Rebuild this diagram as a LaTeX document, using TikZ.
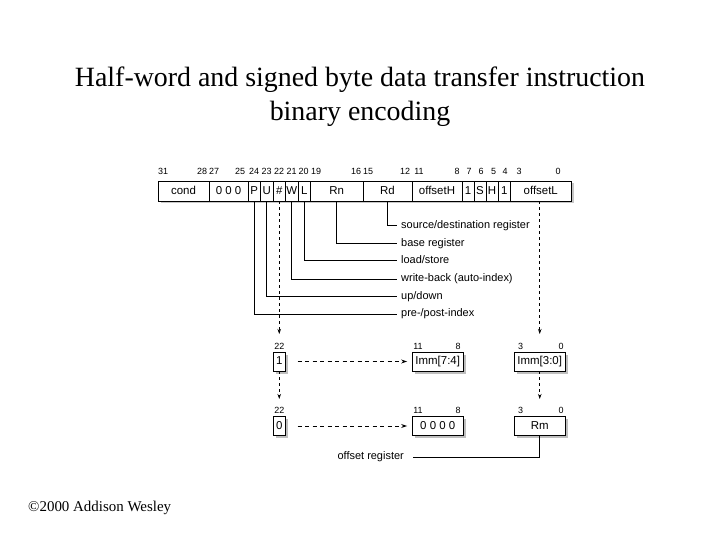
\documentclass[tikz,border=0pt]{standalone}
\usepackage{fontspec}
\setmainfont{Liberation Serif}
\newfontfamily\arial{Liberation Sans}
\usetikzlibrary{arrows.meta,shadows}
\begin{document}
\begin{tikzpicture}[x=1bp,y=-1bp,
  fld/.style={draw=black, line width=0.8bp, fill=white, minimum height=20bp, inner sep=0pt,
    text height=8.3bp, text depth=2.2bp,
    font=\arial\fontsize{11.5}{12}\selectfont},
  lowbox/.style={fld, minimum height=19bp,
    drop shadow={shadow xshift=2.5bp, shadow yshift=-2.5bp, fill=black!25, opacity=1}},
  bit/.style={inner sep=0pt, text height=6.5bp, text depth=0pt, font=\arial\fontsize{9}{10}\selectfont},
  lab/.style={anchor=west, inner sep=0pt, text height=7.5bp, text depth=2bp,
    font=\arial\fontsize{11}{12}\selectfont},
  conn/.style={line width=1bp},
  dashv/.style={line width=0.8bp, dash pattern=on 3bp off 3bp, -{Stealth[length=5bp,width=3.5bp]}},
  dashh/.style={line width=0.9bp, dash pattern=on 4bp off 3.5bp, -{Stealth[length=6bp,width=4bp]}},
]
\useasboundingbox (0,0) rectangle (720,540);

% title
\node[anchor=base, inner sep=0pt, font=\fontsize{28}{34}\selectfont] (title1) at (360,87)
  {Half-word and signed byte data transfer instruction};
\node[anchor=base, inner sep=0pt, font=\fontsize{28}{34}\selectfont] (title2) at (360,121)
  {binary encoding};

% register shadow
\fill[black!22] (160.5,183.5) rectangle (573.5,203.5);

% register fields
\node[fld, minimum width=51bp]   (cond) at (183.5,191) {cond};
\node[fld, minimum width=39bp]   (zero) at (228.5,191) {0 0 0};
\node[fld, minimum width=12.5bp] (P)    at (254.25,191) {P};
\node[fld, minimum width=12.5bp] (U)    at (266.75,191) {U};
\node[fld, minimum width=12.5bp] (hash) at (279.25,191) {\#};
\node[fld, minimum width=12.5bp] (W)    at (291.75,191) {W};
\node[fld, minimum width=12.5bp] (L)    at (304.25,191) {L};
\node[fld, minimum width=52.5bp] (Rn)   at (336.75,191) {Rn};
\node[fld, minimum width=49bp]   (Rd)   at (387.5,191) {Rd};
\node[fld, minimum width=50bp]   (offH) at (437,191) {offsetH};
\node[fld, minimum width=12bp]   (oneA) at (468,191) {1};
\node[fld, minimum width=12bp]   (S)    at (480,191) {S};
\node[fld, minimum width=12bp]   (H)    at (492,191) {H};
\node[fld, minimum width=12.5bp] (oneB) at (504.25,191) {1};
\node[fld, minimum width=60.5bp] (offL) at (540.75,191) {offsetL};

% bit numbers
\foreach \n/\x in {31/163, 28/202, 27/214, 25/240, 24/254, 23/266.5, 22/279, 21/291.5,
  20/303.5, 19/316, 16/356, 15/368, 12/405, 11/419, 8/457, 7/469, 6/481, 5/493.5, 4/505, 3/519, 0/558}
  \node[bit] (t\n) at (\x,171) {\n};

% labels
\node[lab] (lsd)   at (401,226)   {source/destination register};
\node[lab] (lbase) at (401,243.5) {base register};
\node[lab] (lls)   at (401,261)   {load/store};
\node[lab] (lwb)   at (401,279)   {write-back (auto-index)};
\node[lab] (lud)   at (401,296.5) {up/down};
\node[lab] (lpp)   at (401,314)   {pre-/post-index};

\draw[conn] (Rd.south) |- ([xshift=-4bp]lsd.west);
\draw[conn] (Rn.south) |- ([xshift=-4bp]lbase.west);
\draw[conn] (L.south)  |- ([xshift=-4bp]lls.west);
\draw[conn] (W.south)  |- ([xshift=-4bp]lwb.west);
\draw[conn] (U.south)  |- ([xshift=-4bp]lud.west);
\draw[conn] (P.south)  |- ([xshift=-4bp]lpp.west);

% lower boxes
\node[lowbox, minimum width=12bp]   (one)   at (279.25,361.5) {1};
\node[lowbox, minimum width=12bp]   (zer)   at (279.25,426)   {0};
\node[lowbox, minimum width=50.5bp] (imm74) at (437.75,361.5) {Imm[7:4]};
\node[lowbox, minimum width=50.5bp] (zer4)  at (437.75,426)   {0 0 0 0};
\node[lowbox, minimum width=50.5bp] (imm30) at (539.75,361.5) {Imm[3:0]};
\node[lowbox, minimum width=50.5bp] (rm)    at (539.75,426)   {Rm};

% lower bit numbers
\node[bit] (u22a) at (279.25,346) {22};
\node[bit] (u22b) at (279.25,410.5) {22};
\node[bit] (u11a) at (418,346) {11};
\node[bit] (u8a)  at (458,346) {8};
\node[bit] (u11b) at (418,410.5) {11};
\node[bit] (u8b)  at (458,410.5) {8};
\node[bit] (u3a)  at (520.5,346) {3};
\node[bit] (u0a)  at (561,346) {0};
\node[bit] (u3b)  at (520.5,410.5) {3};
\node[bit] (u0b)  at (561,410.5) {0};

% dashed arrows
\coordinate (a1) at (279.25,334);
\coordinate (a2) at (279.25,399);
\coordinate (a3) at (539.75,334);
\coordinate (a4) at (539.75,399);
\draw[dashv] (hash.south) -- (a1);
\draw[dashv] (one.south) -- (a2);
\draw[dashv] (offL.south -| imm30.north) -- (a3);
\draw[dashv] (imm30.south) -- (a4);
\draw[dashh] ([xshift=12bp]one.east) -- ([xshift=-5bp]imm74.west);
\draw[dashh] ([xshift=12bp]zer.east) -- ([xshift=-5bp]zer4.west);

% offset register
\node[lab, anchor=east] (loff) at (404,457) {offset register};
\draw[conn] (rm.south) |- ([xshift=9bp]loff.east);

% copyright
\node[anchor=base west, inner sep=0pt, font=\fontsize{15}{17}\selectfont] (copy) at (28,511)
  {\textcopyright2000 Addison Wesley};
\end{tikzpicture}
\end{document}
